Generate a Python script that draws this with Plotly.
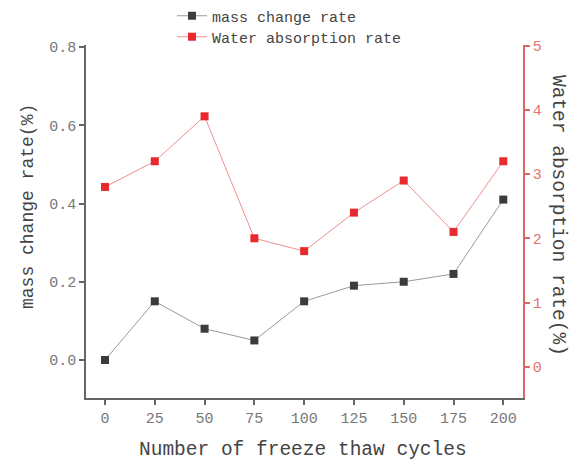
import plotly.graph_objects as go

cycles = [0, 25, 50, 75, 100, 125, 150, 175, 200]
mass_change = [0.0, 0.15, 0.08, 0.05, 0.15, 0.19, 0.20, 0.22, 0.41]
water_abs = [2.8, 3.2, 3.9, 2.0, 1.8, 2.4, 2.9, 2.1, 3.2]

FONT = "Liberation Mono"
GRAY_AX = "#666666"
RED_AX = "#e06666"
W, H = 575, 462
L, R, T, B = 86, 52, 45, 64
PW, PH = W - L - R, H - T - B


def px(p):
    return (p - L) / PW


def py(p):
    return (H - B - p) / PH


fig = go.Figure()
fig.add_trace(go.Scatter(
    x=cycles, y=mass_change, name="mass change rate", mode="lines+markers",
    line=dict(color="#9a9a9a", width=1),
    marker=dict(symbol="square", size=8, color="#3c3c3c"),
    legend="legend",
))
fig.add_trace(go.Scatter(
    x=cycles, y=water_abs, name="Water absorption rate", mode="lines+markers",
    yaxis="y2",
    line=dict(color="#f09090", width=1),
    marker=dict(symbol="square", size=8, color="#e8292e"),
    legend="legend2",
))

leg_common = dict(
    xref="container", yref="container", xanchor="left", yanchor="middle",
    font=dict(family=FONT, size=15, color="#444444"),
    bgcolor="rgba(0,0,0,0)",
)

title_font = dict(family=FONT, color="#444444")

fig.update_layout(
    width=W, height=H,
    margin=dict(l=L, r=R, t=T, b=B, autoexpand=False),
    plot_bgcolor="white", paper_bgcolor="white",
    font=dict(family=FONT, color="#555555", size=15),
    showlegend=True,
    legend=dict(x=172 / W, y=1 - 16 / H, **leg_common),
    legend2=dict(x=172 / W, y=1 - 37 / H, **leg_common),
    xaxis=dict(
        range=[-9.54, 209.9], tickvals=cycles, ticktext=[str(c) for c in cycles],
        showgrid=False, zeroline=False, showline=True, linecolor=GRAY_AX, linewidth=1.5,
        ticks="outside", ticklen=5, tickcolor=GRAY_AX, tickwidth=1.5,
        tickfont=dict(family=FONT, size=15, color="#777777"),
        automargin=False,
    ),
    yaxis=dict(
        range=[-0.0971, 0.8051], tickvals=[0.0, 0.2, 0.4, 0.6, 0.8],
        ticktext=["0.0", "0.2", "0.4", "0.6", "0.8"],
        showgrid=False, zeroline=False, showline=True, linecolor=GRAY_AX, linewidth=1.5,
        ticks="outside", ticklen=5, tickcolor=GRAY_AX, tickwidth=1.5,
        tickfont=dict(family=FONT, size=15, color="#777777"),
        automargin=False,
    ),
    yaxis2=dict(
        range=[-0.4875, 5.011], tickvals=[0, 1, 2, 3, 4, 5],
        overlaying="y", side="right", anchor="x",
        showgrid=False, zeroline=False, showline=True, linecolor=RED_AX, linewidth=1.5,
        ticks="outside", ticklen=5, tickcolor=RED_AX, tickwidth=1.5,
        tickfont=dict(family=FONT, size=15, color="#e57373"),
        automargin=False,
    ),
    annotations=[
        dict(text="Number of freeze thaw cycles", xref="paper", yref="paper",
             x=px(303), y=py(450), showarrow=False, xanchor="center", yanchor="middle",
             font=dict(size=19.5, **title_font)),
        dict(text="mass change rate(%)", xref="paper", yref="paper",
             x=px(28), y=py(207), showarrow=False, xanchor="center", yanchor="middle",
             textangle=-90, font=dict(size=18, **title_font)),
        dict(text="Water absorption rate(%)", xref="paper", yref="paper",
             x=px(558), y=py(215), showarrow=False, xanchor="center", yanchor="middle",
             textangle=90, font=dict(size=19.5, **title_font)),
    ],
)

fig.write_html("out.html", post_script="document.body.style.margin='0';",
               config={"displayModeBar": False})
